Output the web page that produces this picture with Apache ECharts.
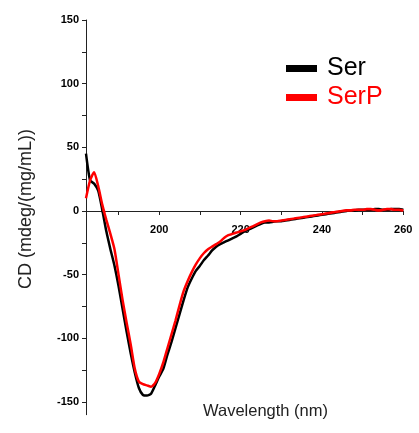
<!DOCTYPE html>
<html>
<head>
<meta charset="utf-8">
<script src="https://cdn.jsdelivr.net/npm/echarts@6/dist/echarts.min.js"></script>
<style>
html,body{margin:0;padding:0;background:#fff;}
#main{width:419px;height:433px;}
</style>
</head>
<body>
<div id="main"></div>
<script>
var wavelengths = [182,183,184,185,186,187,188,189,190,191,192,193,194,195,196,197,198,199,200,201,202,203,204,205,206,207,208,209,210,211,212,213,214,215,216,217,218,219,220,221,222,223,224,225,226,227,228,229,230,231,232,233,234,235,236,237,238,239,240,241,242,243,244,245,246,247,248,249,250,251,252,253,254,255,256,257,258,259,260];
var serValues = [45,24,21.5,16,1,-16,-30,-43,-59,-77,-95,-112,-127,-139,-144.5,-145,-143.5,-137,-130,-124,-113,-103,-92,-81,-70,-60,-53,-47,-43,-38.5,-35,-31,-28,-26,-24.5,-23,-21.5,-20,-18,-16,-14.5,-13,-11.5,-10,-9,-9,-8.5,-8,-8,-7.5,-7,-6.5,-6,-5.5,-5,-4.5,-4,-3.5,-3,-2.5,-2,-1.5,-1,-0.5,0,0.5,0.5,1,1,1,1,1.5,1.5,1,1,1.5,1.5,1.5,1];
var serPValues = [10,24,30.5,19.5,5,-7,-18,-30,-50,-70,-88,-105,-124,-134,-136,-137,-138,-135,-128,-119,-108,-97,-86,-74,-63,-55,-48,-42,-37,-33,-30,-28,-26,-24,-21,-19,-18,-17,-16,-15,-13.5,-12,-10.5,-9,-8,-7.5,-8,-8,-7.5,-7,-6.5,-6,-5.5,-5,-4.5,-4,-3.5,-3,-2.5,-2,-1.5,-1,-0.5,0,0.5,0.5,1,1,1,1.5,1.5,1,0.5,1,1.5,1.5,1,1,0.5];
var seriesNames = ['Ser','SerP'];
var seriesColors = ['#000000','#ff0000'];
var xTickValues = [190,200,210,220,230,240,250,260];
var xLabelValues = [200,220,240,260];
var yTickValuesUpper = [0,25,50,75,100,125,150];
var yLabelValuesUpper = [0,50,100,150];
var yTickValuesLower = [-150,-125,-100,-75,-50,-25];
var yLabelValuesLower = [-150,-100,-50];

function pairs(xs, ys){ return xs.map(function(x,i){ return [x, ys[i]]; }); }

var sans = "'Liberation Sans',Arial,sans-serif";
var axisColor = '#222';
var labelStyle = {fontSize: 11, fontWeight: 'bold', fontFamily: sans, color: '#000'};

function yAxisDef(gridIndex, min, max, ticks, labels){
  return {
    type: 'value', gridIndex: gridIndex, min: min, max: max,
    axisLine: {show: true, onZero: false, lineStyle: {color: axisColor, width: 1}},
    axisTick: {show: true, length: 4, customValues: ticks, lineStyle: {color: axisColor}},
    axisLabel: Object.assign({customValues: labels, margin: 7}, labelStyle),
    splitLine: {show: false}
  };
}

var series = [];
[serValues, serPValues].forEach(function(vals, si){
  [0, 1].forEach(function(g){
    series.push({
      name: seriesNames[si], type: 'line', xAxisIndex: g, yAxisIndex: g,
      data: pairs(wavelengths, vals), showSymbol: false, smooth: 0.2, clip: true,
      lineStyle: {color: seriesColors[si], width: 2.5}, itemStyle: {color: seriesColors[si]}
    });
  });
});

var chart = echarts.init(document.getElementById('main'));
chart.setOption({
  animation: false,
  backgroundColor: '#fff',
  title: {
    text: 'Wavelength (nm)', left: 198, top: 398,
    textStyle: {fontSize: 16.5, fontWeight: 'normal', fontFamily: sans, color: '#222'}
  },
  graphic: [{
    type: 'text', x: 26, y: 209, rotation: Math.PI / 2,
    style: {text: 'CD (mdeg/(mg/mL))', fontSize: 18, fontFamily: sans, fill: '#222', align: 'center', verticalAlign: 'middle'}
  }],
  grid: [
    {left: 86, right: 15.7, top: 20, height: 191, outerBoundsMode: 'none'},
    {left: 86, right: 15.7, top: 211, bottom: 18.3, outerBoundsMode: 'none'}
  ],
  legend: {
    orient: 'vertical', left: 281, top: 49,
    icon: 'rect', itemWidth: 31, itemHeight: 7, itemGap: 0,
    textStyle: {fontSize: 25, fontFamily: sans, lineHeight: 29, padding: [0,0,0,5]},
    data: [
      {name: seriesNames[0], textStyle: {color: seriesColors[0]}},
      {name: seriesNames[1], textStyle: {color: seriesColors[1]}}
    ]
  },
  xAxis: [
    {
      type: 'value', gridIndex: 0, min: 182, max: 260, position: 'bottom',
      axisLine: {show: true, onZero: false, lineStyle: {color: axisColor, width: 1}},
      axisTick: {show: true, length: 4, customValues: xTickValues, lineStyle: {color: axisColor}},
      axisLabel: Object.assign({customValues: xLabelValues, margin: 13}, labelStyle),
      splitLine: {show: false}
    },
    {
      type: 'value', gridIndex: 1, min: 182, max: 260, show: false,
      splitLine: {show: false}
    }
  ],
  yAxis: [
    yAxisDef(0, 0, 150, yTickValuesUpper, yLabelValuesUpper),
    yAxisDef(1, -160, 0, yTickValuesLower, yLabelValuesLower)
  ],
  series: series
});
</script>
</body>
</html>
